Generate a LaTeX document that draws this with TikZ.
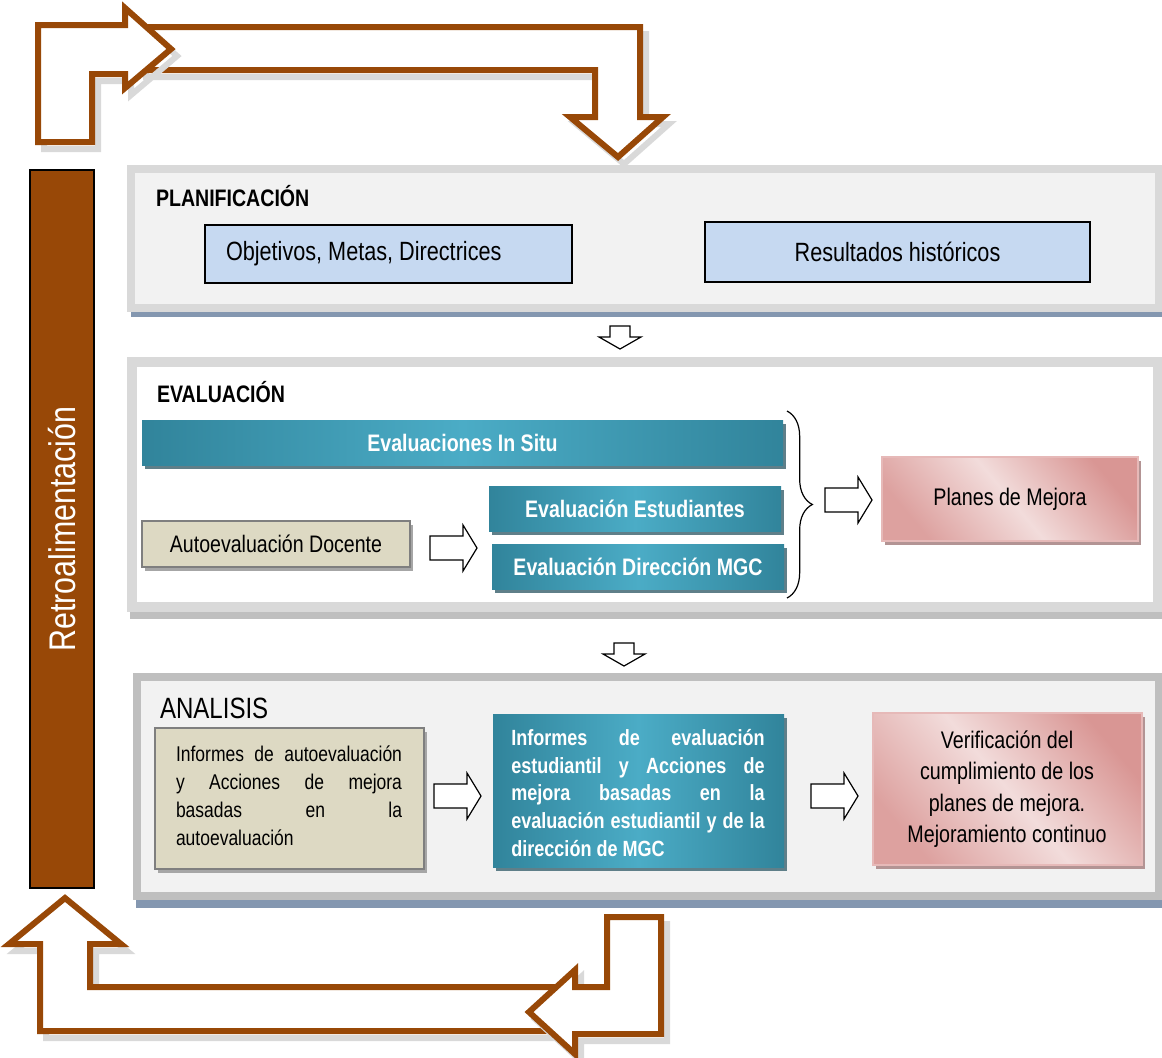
\documentclass[tikz,border=0pt]{standalone}
\usepackage{fontspec}
\setmainfont{Liberation Sans}[FakeStretch=0.82]
\usetikzlibrary{fit,shadows,decorations.pathreplacing}
\definecolor{brn}{HTML}{984807}
\definecolor{panelg}{HTML}{D9D9D9}
\definecolor{panelb}{HTML}{BFBFBF}
\definecolor{panelf}{HTML}{F2F2F2}
\definecolor{bluestrip}{HTML}{8497B0}
\definecolor{lblue}{HTML}{C6D9F1}
\definecolor{tealD}{HTML}{31849B}
\definecolor{tealL}{HTML}{4BACC6}
\definecolor{tealS}{HTML}{5F7F89}
\definecolor{tanF}{HTML}{DDD9C3}
\definecolor{tanB}{HTML}{7F7F7F}
\definecolor{tanS}{HTML}{A6A6A6}
\definecolor{pinkD}{HTML}{D99694}
\definecolor{pinkL}{HTML}{F2DCDB}
\definecolor{pinkE}{HTML}{E6B9B8}
\definecolor{pinkS}{HTML}{B39494}
\definecolor{arrsh}{HTML}{D9D9D9}
\newcommand\myfs[2]{\fontsize{#1}{#2}\selectfont}
\begin{document}
\begin{tikzpicture}[x=0.75pt, y=-0.75pt,
 every node/.style={inner sep=0pt, outer sep=0pt},
 bigarrow/.style={draw=brn, line width=4.5pt, fill=white, line join=miter},
 bigshadow/.style={draw=arrsh, line width=4.5pt, line join=miter},
 blockarrow/.style={draw=black, line width=0.9pt, fill=white, line join=miter},
 panelP/.style={draw=panelg, line width=6pt, fill=panelf},
 panelE/.style={draw=panelg, line width=8pt, fill=white},
 panelA/.style={draw=panelb, line width=6pt, fill=panelf},
 bluebox/.style={draw=black, line width=1.1pt, fill=lblue},
 tealbox/.style={left color=tealD, right color=tealD, middle color=tealL, general shadow={fill=tealS, shadow xshift=2.25pt, shadow yshift=-3pt}},
 tanbox/.style={fill=tanF, draw=tanB, line width=1.8pt, general shadow={fill=tanS, shadow xshift=2.25pt, shadow yshift=-3pt}},
 pinkbox/.style={left color=pinkD, right color=pinkD!85!pinkL, middle color=pinkL, shading angle=-50, draw=pinkE, line width=1.5pt, general shadow={fill=pinkS, shadow xshift=2.25pt, shadow yshift=-3pt}},
 paneltitle/.style={font=\bfseries\myfs{17.9}{20}, anchor=base west},
 tealtext/.style={text=white, font=\bfseries\myfs{17.9}{20}},
 rblock/.pic={\path[blockarrow] (0,-12) -- (33,-12) -- (33,-23) -- (47,0) -- (33,23) -- (33,12) -- (0,12) -- cycle;},
 dblock/.pic={\path[blockarrow] (-10,0) -- (10,0) -- (10,11) -- (21,11) -- (0,23) -- (-21,11) -- (-10,11) -- cycle;}
]
\useasboundingbox (0,0) rectangle (1162,1057);

% ---------- top feedback arrows ----------
\draw[bigshadow, shift={(6,7)}] (140,27) -- (640,27) -- (640,117) -- (663,117) -- (618,157) -- (570,117) -- (595,117) -- (595,70) -- (140,70) -- cycle;
\draw[bigarrow] (140,27) -- (640,27) -- (640,117) -- (663,117) -- (618,157) -- (570,117) -- (595,117) -- (595,70) -- (140,70) -- cycle;
\draw[bigshadow, shift={(6,7)}] (38,142) -- (38,25) -- (125,25) -- (125,8) -- (171,49) -- (125,88) -- (125,74) -- (92,74) -- (92,142) -- cycle;
\draw[bigarrow] (38,142) -- (38,25) -- (125,25) -- (125,8) -- (171,49) -- (125,88) -- (125,74) -- (92,74) -- (92,142) -- cycle;

% ---------- bottom feedback arrows ----------
\draw[bigshadow, shift={(6,7)}] (65,898) -- (121,944) -- (90,944) -- (90,987) -- (565,987) -- (565,1031) -- (40,1031) -- (40,944) -- (9,944) -- cycle;
\draw[bigarrow] (65,898) -- (121,944) -- (90,944) -- (90,987) -- (565,987) -- (565,1031) -- (40,1031) -- (40,944) -- (9,944) -- cycle;
\draw[bigshadow, shift={(6,7)}] (607,917) -- (661,917) -- (661,1034) -- (575,1034) -- (575,1054) -- (529,1012) -- (575,970) -- (575,987) -- (607,987) -- cycle;
\draw[bigarrow] (607,917) -- (661,917) -- (661,1034) -- (575,1034) -- (575,1054) -- (529,1012) -- (575,970) -- (575,987) -- (607,987) -- cycle;

% ---------- left bar ----------
\node[fill=brn, draw=black, line width=0.8pt, fit={(30,170)(94,888)}] (retro) {};
\node[rotate=90, text=white, font=\myfs{27.8}{30}] (retrotxt) at (retro.center) {Retroalimentación};

% ---------- PLANIFICACION ----------
\fill[bluestrip] (131,309) rectangle (1162,317);
\node[panelP, fit={(131,169)(1159,308)}] (plan) {};
\node[paneltitle] (plantitle) at (156,206) {PLANIFICACIÓN};
\node[bluebox, fit={(205,225)(572,283)}] (obj) {};
\node[anchor=west, font=\myfs{19.8}{22}] (objtxt) at (226,254) {Objetivos, Metas, Directrices};
\node[bluebox, fit={(705,222)(1090,282)}] (res) {};
\node[font=\myfs{19.8}{22}] (restxt) at (res.center) {Resultados históricos};

\pic at (620,326) {dblock};

% ---------- EVALUACION ----------
\fill[panelb] (130,610) rectangle (1162,619);
\node[panelE, fit={(132,362)(1158,607)}] (eval) {};
\node[paneltitle] (evaltitle) at (157,402) {EVALUACIÓN};
\node[tealbox, fit={(142,420)(783,465)}] (insitu) {};
\node[tealtext] (insitutxt) at (insitu.center) {Evaluaciones In Situ};
\node[tealbox, fit={(489,486)(781,531)}] (estud) {};
\node[tealtext] (estudtxt) at (estud.center) {Evaluación Estudiantes};
\node[tealbox, fit={(492,544)(784,589)}] (direc) {};
\node[tealtext] (directxt) at (direc.center) {Evaluación Dirección MGC};
\node[tanbox, fit={(142,521)(410,567)}] (auto) {};
\node[font=\myfs{17.9}{20}] (autotxt) at (auto.center) {Autoevaluación Docente};
\pic at (430,548) {rblock};
\draw[decorate, decoration={brace, amplitude=19pt}, line width=0.9pt] (787,411) -- (787,598);
\pic at (825,500) {rblock};
\node[pinkbox, fit={(882,457)(1138,541)}] (planes) {};
\node[font=\myfs{18}{20}] (planestxt) at (planes.center) {Planes de Mejora};

\pic at (624,643) {dblock};

% ---------- ANALISIS ----------
\fill[bluestrip] (136,898) rectangle (1162,908);
\node[panelA, fit={(137,677)(1159,896)}] (anal) {};
\node[anchor=base west, font=\myfs{22}{24}] (analtitle) at (160,718) {ANALISIS};
\node[tanbox, fit={(155,728)(424,869)}] (inf1) {};
\node[text width=169.5pt, align=justify, font=\myfs{16}{21}] (inf1txt) at (289,796) {\hyphenpenalty=10000 Informes de autoevaluación\linebreak y Acciones de mejora\linebreak basadas en la\linebreak autoevaluación};
\pic at (434,796) {rblock};
\node[tealbox, fit={(493,714)(784,867)}] (inf2) {};
\node[text width=190pt, align=justify, text=white, font=\bfseries\myfs{16.5}{20.8}] (inf2txt) at (638,793) {\hyphenpenalty=10000 Informes de evaluación\linebreak estudiantil y Acciones de\linebreak mejora basadas en la\linebreak evaluación estudiantil y de la\linebreak dirección de MGC};
\pic at (811,796) {rblock};
\node[pinkbox, fit={(873,713)(1142,865)}] (verif) {};
\node[align=center, font=\myfs{18}{23.6}] (veriftxt) at (1007,789) {Verificación del\\cumplimiento de los\\planes de mejora.\\Mejoramiento continuo};
\end{tikzpicture}
\end{document}
